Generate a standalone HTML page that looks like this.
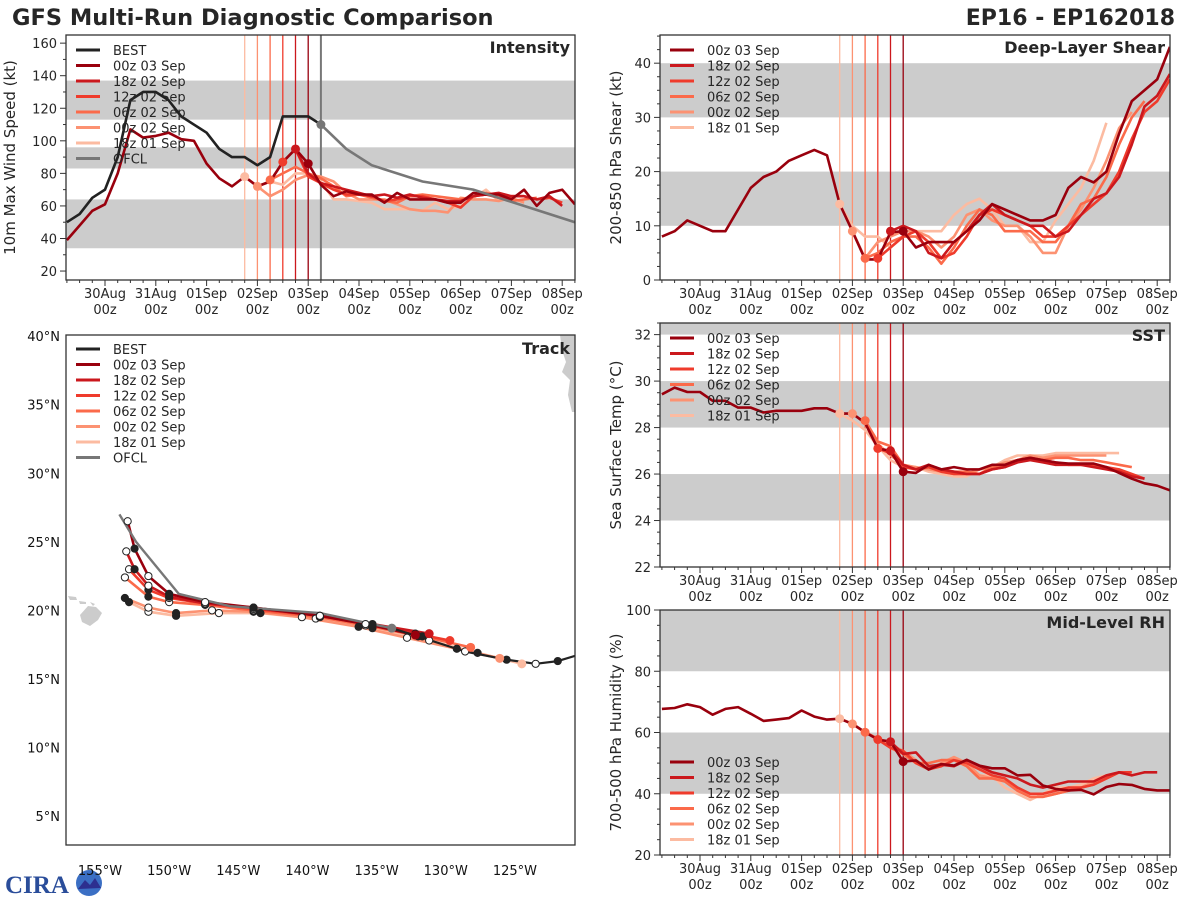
<!DOCTYPE html>
<html><head><meta charset="utf-8"><title>GFS Multi-Run Diagnostic Comparison</title>
<style>
html,body{margin:0;padding:0;background:#fff;}
svg{display:block;font-family:"DejaVu Sans","Liberation Sans",sans-serif;}
</style></head>
<body>
<svg id="chart" width="1200" height="900" viewBox="0 0 1200 900">
<text x="12" y="25" font-size="22.5" font-weight="bold" fill="#262626">GFS Multi-Run Diagnostic Comparison</text>
<text x="1175" y="25" font-size="22" font-weight="bold" fill="#262626" text-anchor="end">EP16 - EP162018</text>
<g>
<text x="5" y="893" font-size="25" font-weight="bold" fill="#2a4d9a" font-family="Liberation Serif, serif">CIRA</text>
<circle cx="89" cy="883" r="13" fill="#3b6fc4"/>
<path d="M78 889 L85 880 L90 885 L95 878 L101 888 Z" fill="#2d2f8f"/>
</g>
</svg>
<script>
// ---------- DATA ----------
const days = ['30Aug','31Aug','01Sep','02Sep','03Sep','04Sep','05Sep','06Sep','07Sep','08Sep'];
const runNames = ['00z 03 Sep','18z 02 Sep','12z 02 Sep','06z 02 Sep','00z 02 Sep','18z 01 Sep'];
const runInitHours = [96,90,84,78,72,66];
const runColors = ['#99000d','#cb181d','#ef3b2c','#fb6a4a','#fc9272','#fcbba1'];

// Intensity (kt) — hours from 30 Aug 00z, 6-hourly
const bestStart = -18;
const bestInt = [50,55,65,70,90,125,130,130,125,115,110,105,95,90,90,85,90,115,115,115,110];
const ofclHours = [102,114,126,150,174,222];
const ofclInt = [110,95,85,75,70,50];
const intStarts = [-18,90,84,78,72,66];
const int00z03 = [39,48,57,61,80,107,102,103,105,101,100,86,77,72,78,72,75,87,95,86,73,66,69,67,67,62,68,64,64,64,62,62,68,67,67,64,70,60,68,70,61];
const int18z02 = [95,80,74,72,70,68,66,67,65,67,65,64,63,63,66,67,68,66,66,64,66,60];
const int12z02 = [87,95,78,74,70,67,67,66,63,64,66,66,64,62,59,66,67,65,66,66,64,65,62];
const int06z02 = [76,80,84,80,77,72,66,67,65,63,62,66,67,66,65,64,66,68,66,63,64,65];
const int00z02 = [72,66,70,76,79,78,75,68,64,64,64,61,58,57,57,56,65,64,64,63,65,62];
const int18z01 = [78,72,75,73,80,80,75,64,64,63,62,58,58,58,57,62,58,60,65,70,63,65,62];

// Deep-layer shear (kt)
const sh00z03 = [8,9,11,10,9,9,13,17,19,20,22,23,24,23,14,9,3.8,3.8,8.8,9,6,7,7,7,9,11,14,13,12,11,11,12,17,19,18,20,27,33,35,37,43];
const sh18z02 = [9,10,9,5,4,7,9,12,14,12,11,10,10,8,9,12,15,16,19,25,32,34,38];
const sh12z02 = [4,6,8,9,7,4,5,8,12,13,12,11,10,8,8,10,12,14,16,20,26,31,33,37];
const sh06z02 = [4,5,7,8,8,6,3,6,10,13,12,9,9,9,7,7,10,14,15,19,25,30,33];
const sh00z02 = [9,4,7,8,9,9,8,6,8,12,13,11,10,10,8,5,5,10,13,17,22,28,31];
const sh18z01 = [14,10,8,8,6,8,9,9,9,12,14,15,13,10,10,7,7,11,14,17,22,29];

// SST (°C)
const sst00z03 = [29.43,29.72,29.53,29.53,29.15,29.15,28.86,28.86,28.65,28.72,28.72,28.72,28.83,28.83,28.6,28.6,28.2,27.1,27.0,26.1,26.05,26.4,26.2,26.3,26.2,26.2,26.4,26.4,26.6,26.7,26.6,26.5,26.45,26.45,26.45,26.3,26.05,25.8,25.6,25.5,25.3];
const sst18z02 = [27.0,26.4,26.2,26.4,26.2,26.1,26.0,26.0,26.2,26.3,26.5,26.6,26.5,26.4,26.4,26.4,26.3,26.2,26.1,25.9,25.8];
const sst12z02 = [27.1,26.9,26.3,26.2,26.3,26.1,26.0,26.0,26.0,26.2,26.3,26.6,26.7,26.6,26.5,26.4,26.4,26.4,26.3,26.2,26.0,25.8];
const sst06z02 = [28.3,27.4,27.2,26.4,26.2,26.3,26.2,26.1,26.1,26.0,26.3,26.3,26.6,26.7,26.6,26.7,26.7,26.6,26.6,26.5,26.4,26.3];
const sst00z02 = [28.6,28.2,27.3,26.8,26.4,26.3,26.2,26.1,26.0,26.0,26.2,26.3,26.5,26.6,26.8,26.7,26.8,26.8,26.8,26.8,26.8];
const sst18z01 = [28.6,28.3,27.9,27.2,26.6,26.3,26.3,26.1,26.0,25.9,25.9,26.2,26.3,26.6,26.8,26.8,26.8,26.9,26.9,26.9,26.9,26.9,26.9];

// Mid-level RH (%)
const rh00z03 = [67.7,68,69.2,68.3,65.8,67.7,68.3,66.1,63.8,64.2,64.7,67.2,65.2,64.2,64.5,62.8,60.1,57.7,57.0,50.5,50.9,47.9,49.7,49.2,51.1,49.2,48.3,48.3,46.0,46.2,42.7,41.6,41.1,41.3,39.8,42.2,43.2,42.9,41.6,41.1,41.1];
const rh18z02 = [57,53,53.5,49,49.5,49,51,49,47,46,45,43,42,43,44,44,44,46,47,46,47,47];
const rh12z02 = [57.7,55,54,50,48,49,51,50,48,46,45,42,40,40,41,42,42,43,45,47,47];
const rh06z02 = [60.1,58,55,53,50,50,51,51,49,45,45,44,41,39,39,40,41,42,43,45,47];
const rh00z02 = [62.8,60,58,56,54,51,48,50,52,50,46,45,45,41,39,39,40,41,42,44,46];
const rh18z01 = [64.5,63,60,58,55,53,50,48,50,51,49,46,46,42,40,38,40,42,42,43,45,46];

// Track (deg W, deg N)
const bestLon = [120.6,121.9,123.5,125.6,128.6,132.0,133.9];
const bestLat = [16.7,16.3,16.1,16.4,17.0,18.1,18.7];
const ofclLon = [133.9,139.1,145.6,149.3,152.4,153.6];
const ofclLat = [18.7,19.8,20.3,21.2,25.0,27.0];
const trk00z03Lon = [132.2,135.3,139.1,143.9,147.4,150.0,151.5,152.5,153.0];
const trk00z03Lat = [18.2,18.9,19.6,20.2,20.6,21.2,22.5,24.5,26.5];
const trk18z02Lon = [131.2,135.3,139.1,143.9,147.4,150.0,151.5,152.5,153.1];
const trk18z02Lat = [18.3,19.0,19.6,20.2,20.5,21.0,21.8,23.0,24.3];
const trk12z02Lon = [129.7,132.2,135.8,139.1,143.9,147.4,150.0,151.5,152.9];
const trk12z02Lat = [17.8,18.3,19.0,19.6,20.1,20.5,20.9,21.5,23.0];
const trk06z02Lon = [128.2,131.7,135.8,139.1,143.9,147.4,150.0,151.5,153.2];
const trk06z02Lat = [17.3,18.1,18.9,19.5,20.0,20.4,20.6,21.0,22.4];
const trk00z02Lon = [126.1,129.2,132.8,136.3,140.4,143.9,146.9,149.5,151.5,153.2];
const trk00z02Lat = [16.5,17.2,18.0,18.8,19.5,19.9,20.0,19.8,20.2,20.9];
const trk18z01Lon = [124.5,127.7,131.2,135.3,139.4,143.4,146.4,149.5,151.5,152.9];
const trk18z01Lat = [16.1,16.9,17.8,18.7,19.4,19.8,19.8,19.6,19.9,20.6];
const latTicks = [5,10,15,20,25,30,35,40];
const lonTicks = [155,150,145,140,135,130,125];

// ---------- DRAWING ----------
const NS = 'http://www.w3.org/2000/svg';
const svg = document.getElementById('chart');
function mk(tag, attrs, parent){
  const e = document.createElementNS(NS, tag);
  for (const k in attrs) e.setAttribute(k, attrs[k]);
  (parent || svg).appendChild(e);
  return e;
}
const TXT = '#262626';

function timePanel(cfg){
  const g = mk('g', {});
  
  
  const L=cfg.x0, R=cfg.x1, T=cfg.y0, B=cfg.y1;
  const xOf = h => cfg.day0 + h/24*50.8;
  const yOf = v => B - (v - cfg.vmin)/(cfg.vmax - cfg.vmin)*(B - T);
  cfg.bands.forEach(b => {
    const r = mk('rect', {x:L, y:yOf(Math.min(b[1],cfg.vmax)), width:R-L, height:yOf(b[0])-yOf(Math.min(b[1],cfg.vmax)), fill:'#cccccc'}, g);
    
    
  });
  const clipId = 'clip-' + cfg.name;
  const cp = mk('clipPath', {id:clipId}, g);
  mk('rect', {x:L, y:T, width:R-L, height:B-T}, cp);
  const pg = mk('g', {'clip-path':'url(#'+clipId+')'}, g);
  runInitHours.forEach((h,i) => {
    const l = mk('line', {x1:xOf(h), x2:xOf(h), y1:T, y2:B, stroke:runColors[i], 'stroke-width':1.3}, pg);
    
    
  });
  if (cfg.ofcl){
    const l = mk('line', {x1:xOf(102), x2:xOf(102), y1:T, y2:B, stroke:'#777', 'stroke-width':2}, pg);
    
    
  }
  const series = cfg.series;
  for (let i = series.length - 1; i >= 0; i--){
    const arr = series[i], st = cfg.starts[i];
    const pts = arr.map((v,k) => xOf(st + k*6).toFixed(1) + ',' + yOf(v).toFixed(1)).join(' ');
    const p = mk('polyline', {points:pts, fill:'none', stroke:runColors[i], 'stroke-width':2.6, 'stroke-linejoin':'round'}, pg);
    
    
  }
  if (cfg.best){
    const pts = cfg.best.map((v,k) => xOf(bestStart + k*6)+','+yOf(v)).join(' ');
    const p = mk('polyline', {points:pts, fill:'none', stroke:'#222', 'stroke-width':2.6, 'stroke-linejoin':'round'}, pg);
    
    
  }
  if (cfg.ofcl){
    const pts = ofclInt.map((v,k) => xOf(ofclHours[k])+','+yOf(v)).join(' ');
    const p = mk('polyline', {points:pts, fill:'none', stroke:'#777', 'stroke-width':2.6}, pg);
    
    
    const c = mk('circle', {cx:xOf(ofclHours[0]), cy:yOf(ofclInt[0]), r:4.5, fill:'#777'}, pg);
    
    
  }
  for (let i = series.length - 1; i >= 0; i--){
    const idx = (runInitHours[i] - cfg.starts[i]) / 6;
    const c = mk('circle', {cx:xOf(runInitHours[i]), cy:yOf(series[i][idx]), r:4.5, fill:runColors[i]}, pg);
    
    
  }
  const fr = mk('rect', {x:L, y:T, width:R-L, height:B-T, fill:'none', stroke:'#333', 'stroke-width':1.3}, g);
  
  
  for (let h = -18; h <= 222; h += 6){
    const x = xOf(h), major = (h % 24 === 0);
    mk('line', {x1:x, x2:x, y1:B, y2:B+(major?6:3), stroke:'#333', 'stroke-width':1}, g);
  }
  days.forEach((d,k) => {
    const x = xOf(k*24);
    const t1 = mk('text', {x:x, y:B+18, 'font-size':13, 'text-anchor':'middle', fill:TXT}, g);
    t1.textContent = d;
    
    
    const t2 = mk('text', {x:x, y:B+34, 'font-size':13, 'text-anchor':'middle', fill:TXT}, g);
    t2.textContent = '00z';
    
    
  });
  for (let v = Math.ceil(cfg.vmin/cfg.minor)*cfg.minor; v <= cfg.vmax + 1e-9; v += cfg.minor){
    const y = yOf(v);
    const major = Math.abs(v/cfg.major - Math.round(v/cfg.major)) < 1e-6;
    mk('line', {x1:L-(major?6:3), x2:L, y1:y, y2:y, stroke:'#333', 'stroke-width':1}, g);
    if (major){
      const t = mk('text', {x:L-9, y:y+5, 'font-size':13, 'text-anchor':'end', fill:TXT}, g);
      t.textContent = Math.round(v);
      
      
    }
  }
  const yl = mk('text', {x:0, y:0, 'font-size':15, 'text-anchor':'middle', fill:TXT, transform:'translate('+cfg.ylx+','+((T+B)/2)+') rotate(-90)'}, g);
  yl.textContent = cfg.ylabel;
  
  
  const tt = mk('text', {x:R-5, y:T+18, 'font-size':16, 'font-weight':'bold', 'text-anchor':'end', fill:TXT}, g);
  tt.textContent = cfg.title;
  
  
  legend(g, L+10, cfg.legY, cfg.legEntries);
}

function legend(g, x, y, entries){
  const lg = mk('g', {}, g);
  
  
  entries.forEach((e,k) => {
    const yy = y + k*15.5;
    const ln = mk('line', {x1:x, x2:x+24, y1:yy, y2:yy, stroke:e[1], 'stroke-width':3}, lg);
    
    
    const t = mk('text', {x:x+37, y:yy+5, 'font-size':13, fill:TXT}, lg);
    t.textContent = e[0];
    
    
  });
}

const runEntries = runNames.map((n,i) => [n, runColors[i]]);

timePanel({name:'intensity', x0:66, x1:575, y0:35, y1:280, day0:105, vmin:14.5, vmax:165, major:20, minor:10,
  bands:[[34,64],[83,96],[113,137]], series:[int00z03,int18z02,int12z02,int06z02,int00z02,int18z01], starts:intStarts,
  best:bestInt, ofcl:true, ylabel:'10m Max Wind Speed (kt)', ylx:15, title:'Intensity', legY:50,
  legEntries:[['BEST','#222']].concat(runEntries).concat([['OFCL','#777']])});
timePanel({name:'shear', x0:660, x1:1170, y0:35, y1:280, day0:700, vmin:0, vmax:45.2, major:10, minor:2.5,
  bands:[[10,20],[30,40]], series:[sh00z03,sh18z02,sh12z02,sh06z02,sh00z02,sh18z01], starts:intStarts,
  ylabel:'200-850 hPa Shear (kt)', ylx:621, title:'Deep-Layer Shear', legY:50, legEntries:runEntries});
timePanel({name:'sst', x0:660, x1:1170, y0:323, y1:567, day0:700, vmin:22, vmax:32.5, major:2, minor:0.5,
  bands:[[24,26],[28,30],[32,33]], series:[sst00z03,sst18z02,sst12z02,sst06z02,sst00z02,sst18z01], starts:intStarts,
  ylabel:'Sea Surface Temp (°C)', ylx:621, title:'SST', legY:338, legEntries:runEntries});
timePanel({name:'rh', x0:660, x1:1170, y0:610, y1:855, day0:700, vmin:20, vmax:100, major:20, minor:5,
  bands:[[40,60],[80,100]], series:[rh00z03,rh18z02,rh12z02,rh06z02,rh00z02,rh18z01], starts:intStarts,
  ylabel:'700-500 hPa Humidity (%)', ylx:621, title:'Mid-Level RH', legY:762, legEntries:runEntries});

// ---------- TRACK PANEL ----------
(function(){
  const L=66, R=575, T=335, B=845;
  const xOf = lw => 100 + (155 - lw)*13.83;
  const yOf = la => 816 - (la - 5)*13.71;
  const g = mk('g', {});
  
  
  const cp = mk('clipPath', {id:'clip-track'}, g);
  mk('rect', {x:L, y:T, width:R-L, height:B-T}, cp);
  const pg = mk('g', {'clip-path':'url(#clip-track)'}, g);
  const hi = mk('path', {d:'M80 615 L88 606 L96 607 L102 613 L98 620 L90 626 L82 622 Z M68 596 L76 597 L77 600 L70 600 Z M79 601 L86 602 L86 604 L80 604 Z M90 602 L95 604 L93 606 Z', fill:'#cccccc'}, pg);
  
  
  const na = mk('path', {d:'M575 335 L560 335 L562 350 L566 362 L562 372 L570 380 L568 395 L572 412 L575 412 Z', fill:'#cccccc'}, pg);
  
  
  const tracks = [[trk00z03Lon,trk00z03Lat],[trk18z02Lon,trk18z02Lat],[trk12z02Lon,trk12z02Lat],[trk06z02Lon,trk06z02Lat],[trk00z02Lon,trk00z02Lat],[trk18z01Lon,trk18z01Lat]];
  function drawTrack(lon, lat, color, w, name){
    const pts = lon.map((v,k) => xOf(v).toFixed(1)+','+yOf(lat[k]).toFixed(1)).join(' ');
    const p = mk('polyline', {points:pts, fill:'none', stroke:color, 'stroke-width':w, 'stroke-linejoin':'round'}, pg);
    
    
  }
  function markers(lon, lat){
    lon.forEach((v,k) => {
      if (k === 0) return;
      const c = mk('circle', {cx:xOf(v), cy:yOf(lat[k]), r:3.6, fill:(k%2 ? '#222' : '#fff'), stroke:'#222', 'stroke-width':1}, pg);
      
      
    });
  }
  for (let i = tracks.length-1; i >= 0; i--) drawTrack(tracks[i][0], tracks[i][1], runColors[i], 2.6, 'track-run-' + i);
  drawTrack(bestLon, bestLat, '#222', 2.2, 'best-track');
  drawTrack(ofclLon, ofclLat, '#777', 2.4, 'ofcl-track');
  for (let i = tracks.length-1; i >= 0; i--) markers(tracks[i][0], tracks[i][1]);
  markers(bestLon, bestLat);
  for (let i = tracks.length-1; i >= 0; i--){
    const c = mk('circle', {cx:xOf(tracks[i][0][0]), cy:yOf(tracks[i][1][0]), r:4.5, fill:runColors[i]}, pg);
    
    
  }
  const oc = mk('circle', {cx:xOf(ofclLon[0]), cy:yOf(ofclLat[0]), r:4.5, fill:'#777'}, pg);
  
  
  const fr = mk('rect', {x:L, y:T, width:R-L, height:B-T, fill:'none', stroke:'#333', 'stroke-width':1.3}, g);
  
  
  latTicks.forEach(la => {
    const t = mk('text', {x:L-6, y:yOf(la)+5, 'font-size':13, 'text-anchor':'end', fill:'#111'}, g);
    t.textContent = la + '°N';
    
    
  });
  lonTicks.forEach(lo => {
    const t = mk('text', {x:xOf(lo), y:875, 'font-size':13, 'text-anchor':'middle', fill:'#111'}, g);
    t.textContent = lo + '°W';
    
    
  });
  const tt = mk('text', {x:R-5, y:T+19, 'font-size':16, 'font-weight':'bold', 'text-anchor':'end', fill:TXT}, g);
  tt.textContent = 'Track';
  
  
  legend(g, L+10, 349, [['BEST','#222']].concat(runEntries).concat([['OFCL','#777']]));
})();
</script>
</body></html>
